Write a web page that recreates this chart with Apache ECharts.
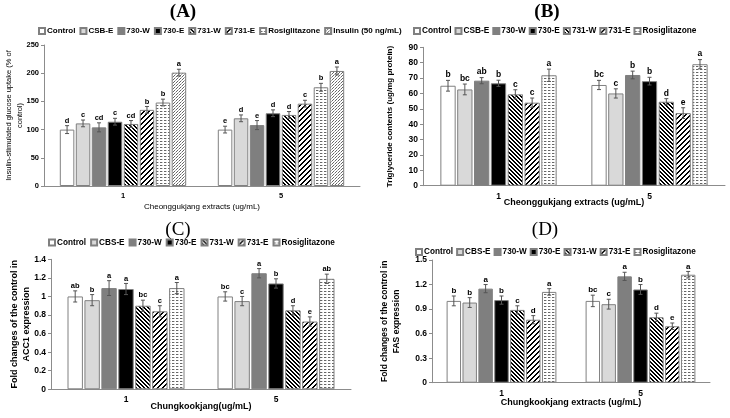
<!DOCTYPE html>
<html><head><meta charset="utf-8">
<script src="https://cdn.jsdelivr.net/npm/echarts@6/dist/echarts.min.js"></script>
<style>html,body{margin:0;padding:0;background:#fff}#c{width:730px;height:418px}</style>
</head><body><div id="c"></div>
<script>
// ---------- data ----------
const doses = ['1', '5'];
const namesA = ['Control','CSB-E','730-W','730-E','731-W','731-E','Rosiglitazone','Insulin (50 ng/mL)'];
const namesB = ['Control','CSB-E','730-W','730-E','731-W','731-E','Rosiglitazone'];
const namesCD = ['Control','CBS-E','730-W','730-E','731-W','731-E','Rosiglitazone'];

// (A) insulin-stimulated glucose uptake (% of control)
const aDose1 = [100, 111, 104, 114, 110, 135, 148, 201];
const aDose5 = [100, 120, 108, 129, 126, 146, 175, 204];
const aErr1 = [7, 6, 8, 6, 6, 6, 6, 6];
const aErr5 = [6, 6, 8, 6, 6, 6, 7, 7];
const aSig1 = ['d','c','cd','c','cd','b','b','a'];
const aSig5 = ['e','d','e','d','d','c','b','a'];

// (B) triglyceride contents (ug/mg protein)
const bDose1 = [65, 62.6, 68.3, 66.6, 59.4, 54, 71.8];
const bDose5 = [65.5, 60, 72, 68, 54.6, 47.2, 79];
const bErr1 = [3.5, 3.5, 2, 2, 3, 3, 4];
const bErr5 = [3, 3, 2.5, 2.5, 2, 3.5, 3];
const bSig1 = ['b','bc','ab','b','c','c','a'];
const bSig5 = ['bc','c','b','b','d','e','a'];

// (C) ACC1 expression (fold of control)
const cDose1 = [1.0, 0.96, 1.09, 1.08, 0.90, 0.84, 1.09];
const cDose5 = [1.0, 0.95, 1.25, 1.14, 0.85, 0.73, 1.19];
const cErr1 = [0.06, 0.06, 0.08, 0.06, 0.06, 0.06, 0.06];
const cErr5 = [0.05, 0.05, 0.05, 0.05, 0.05, 0.05, 0.05];
const cSig1 = ['ab','b','a','a','bc','c','a'];
const cSig5 = ['bc','c','a','b','d','e','ab'];

// (D) FAS expression (fold of control)
const dDose1 = [1.0, 0.98, 1.15, 1.01, 0.89, 0.77, 1.11];
const dDose5 = [1.0, 0.96, 1.30, 1.14, 0.80, 0.69, 1.32];
const dErr1 = [0.06, 0.06, 0.05, 0.05, 0.05, 0.05, 0.04];
const dErr5 = [0.07, 0.06, 0.05, 0.06, 0.05, 0.04, 0.04];
const dSig1 = ['b','b','a','b','c','d','a'];
const dSig5 = ['bc','c','a','b','d','e','a'];

// ---------- styles ----------
const FONT = 'Arial, "Liberation Sans", sans-serif';
const SERIF = '"Liberation Serif", "DejaVu Serif", serif';
function pat(w, h, draw) {
  const c = document.createElement('canvas'); c.width = w; c.height = h;
  const x = c.getContext('2d'); x.fillStyle = '#fff'; x.fillRect(0, 0, w, h);
  x.fillStyle = '#000'; draw(x);
  return { image: c, repeat: 'repeat' };
}
const backDiag = pat(4, 4, x => { for (let i = 0; i < 4; i++) { x.fillRect(i, i, 1, 1); x.fillRect((i + 1) % 4, i, 1, 1); } });
const fwdDiag = pat(5, 5, x => { for (let i = 0; i < 5; i++) { x.fillRect((4 - i), i, 1, 1); x.fillRect((5 - i) % 5, i, 1, 1); } });
const rosi = pat(4, 3, x => { x.fillStyle = '#666'; x.fillRect(0, 0, 2, 1); x.fillStyle = '#c8c8c8'; x.fillRect(2, 0, 1, 1); });
const insu = pat(3, 3, x => { x.fillStyle = '#666'; x.fillRect(0, 0, 1, 1); x.fillRect(2, 1, 1, 1); x.fillStyle = '#aaa'; x.fillRect(1, 2, 1, 1); });
const fills = ['#ffffff', '#d9d9d9', '#7f7f7f', '#000000', backDiag, fwdDiag, rosi, insu];

const BAR_GAP = 0.1;
const grids = [
  { left: 44, top: 45, width: 316, height: 141 },
  { left: 423, top: 47.3, width: 302, height: 138.4 },
  { left: 51, top: 259.3, width: 300, height: 130 },
  { left: 432, top: 260, width: 278, height: 122.7 }
];
const catGaps = [0.2, 0.23, 0.22, 0.21];
const yCfg = [
  { max: 250, interval: 50, fs: 7.5, name: 'Insulin-stimulated glucose uptake (% of\ncontrol)', nameFs: 7.5, nameBold: 'normal', gap: 19, fmt: v => v },
  { max: 90, interval: 10, fs: 8.5, name: 'Triglyceride contents (ug/mg protein)', nameFs: 8, nameBold: 'bold', gap: 28, fmt: v => v },
  { max: 1.4, interval: 0.2, fs: 8.5, name: 'Fold changes of the control in\nACC1 expression', nameFs: 9, nameBold: 'bold', gap: 18, fmt: v => +v.toFixed(1) },
  { max: 1.5, interval: 0.3, fs: 8.5, name: 'Fold changes of the control in\nFAS expression', nameFs: 8.5, nameBold: 'bold', gap: 30, fmt: v => +v.toFixed(1) }
];
const xCfg = [
  { name: 'Cheonggukjang extracts (ug/mL)', w: 'normal', fs: 8, gap: 17 },
  { name: 'Cheonggukjang extracts (ug/mL)', w: 'bold', fs: 9, gap: 12 },
  { name: 'Chungkookjang(ug/mL)', w: 'bold', fs: 9, gap: 13 },
  { name: 'Chungkookjang extracts (ug/mL)', w: 'bold', fs: 9, gap: 15 }
];

const series = [];
function addPanel(gi, names, d1, d5, e1, e5, s1, s5, sigFs) {
  const n = names.length, g = catGaps[gi];
  names.forEach((nm, k) => {
    series.push({
      type: 'bar', name: nm, xAxisIndex: gi, yAxisIndex: gi,
      data: [d1[k], d5[k]],
      itemStyle: { color: fills[k], borderColor: '#808080', borderWidth: 1 },
      barGap: (BAR_GAP * 100) + '%', barCategoryGap: (g * 100) + '%',
      silent: true
    });
  });
  const ed = [], letters = [];
  names.forEach((nm, k) => {
    ed.push([0, d1[k], e1[k], k]); letters.push(s1[k]);
    ed.push([1, d5[k], e5[k], k]); letters.push(s5[k]);
  });
  series.push({
    type: 'custom', xAxisIndex: gi, yAxisIndex: gi, data: ed, z: 10, silent: true,
    renderItem: (params, api) => {
      const cat = api.value(0), v = api.value(1), e = api.value(2), k = api.value(3);
      const bw = api.size([1, 0])[0];
      const w = bw * (1 - g) / (n + (n - 1) * BAR_GAP);
      const total = n * w + (n - 1) * w * BAR_GAP;
      const c = api.coord([cat, v]);
      const x = c[0] - total / 2 + k * w * (1 + BAR_GAP) + w / 2;
      const top = api.coord([cat, v + e])[1], bot = api.coord([cat, v - e])[1];
      const st = { stroke: '#555', lineWidth: 1 };
      return { type: 'group', children: [
        { type: 'line', shape: { x1: x, y1: top, x2: x, y2: bot }, style: st },
        { type: 'line', shape: { x1: x - 2, y1: top, x2: x + 2, y2: top }, style: st },
        { type: 'line', shape: { x1: x - 2, y1: bot, x2: x + 2, y2: bot }, style: st },
        { type: 'text', style: { text: letters[params.dataIndex], x: x, y: top - 1, align: 'center', verticalAlign: 'bottom', font: 'bold ' + sigFs + 'px ' + FONT, fill: '#000' } }
      ] };
    }
  });
}
addPanel(0, namesA, aDose1, aDose5, aErr1, aErr5, aSig1, aSig5, 7.5);
addPanel(1, namesB, bDose1, bDose5, bErr1, bErr5, bSig1, bSig5, 8.5);
addPanel(2, namesCD, cDose1, cDose5, cErr1, cErr5, cSig1, cSig5, 7.5);
addPanel(3, namesCD, dDose1, dDose5, dErr1, dErr5, dSig1, dSig5, 8);

function titleOf(text, x, y, w) {
  return { text: text, left: x, top: y, padding: 0, textAlign: 'center', textStyle: { fontFamily: SERIF, fontWeight: w, fontSize: 19, color: '#000' } };
}
function legendOf(data, x, y, gap, fs) {
  return { data: data, left: x, top: y, padding: 0, itemWidth: 6, itemHeight: 6, itemGap: gap, icon: 'rect', selectedMode: false,
    textStyle: { fontFamily: FONT, fontSize: fs, fontWeight: 'bold', color: '#000', padding: [0, 0, 0, -3] } };
}
const option = {
  animation: false,
  backgroundColor: '#fff',
  title: [
    titleOf('(A)', 183, 3, 'bold'),
    titleOf('(B)', 547, 3, 'bold'),
    titleOf('(C)', 178, 221, 'normal'),
    titleOf('(D)', 545, 221, 'normal')
  ],
  legend: [
    legendOf(namesA, 38, 27, 4, 8),
    legendOf(namesB, 413, 27, 3, 8.3),
    legendOf(namesCD, 48, 238.5, 4, 8.2),
    legendOf(namesCD, 415, 248, 3, 8.2)
  ],
  grid: grids,
  xAxis: grids.map((g, i) => ({
    type: 'category', gridIndex: i, data: doses,
    axisLine: { lineStyle: { color: '#8c8c8c', width: 1 } }, axisTick: { show: false },
    axisLabel: { fontFamily: FONT, fontSize: i === 0 ? 7.5 : 8.5, fontWeight: 'bold', color: '#000', margin: 6 },
    name: xCfg[i].name, nameLocation: 'middle', nameGap: xCfg[i].gap, nameMoveOverlap: false,
    nameTextStyle: { fontFamily: FONT, fontSize: xCfg[i].fs, fontWeight: xCfg[i].w, color: '#000' }
  })),
  yAxis: grids.map((g, i) => ({
    type: 'value', gridIndex: i, min: 0, max: yCfg[i].max, interval: yCfg[i].interval,
    axisLine: { show: true, lineStyle: { color: '#8c8c8c', width: 1 } },
    axisTick: { show: true, length: 3, lineStyle: { color: '#8c8c8c' } },
    splitLine: { show: false },
    axisLabel: { fontFamily: FONT, fontSize: yCfg[i].fs, fontWeight: 'bold', color: '#000', margin: 5, formatter: yCfg[i].fmt },
    name: yCfg[i].name, nameLocation: 'middle', nameRotate: 90, nameGap: yCfg[i].gap, nameMoveOverlap: false,
    nameTextStyle: { fontFamily: FONT, fontSize: yCfg[i].nameFs, fontWeight: yCfg[i].nameBold, color: '#000', lineHeight: yCfg[i].nameFs + 3 }
  })),
  series: series
};
const chart = echarts.init(document.getElementById('c'), null, { renderer: 'canvas' });
chart.setOption(option);
</script></body></html>
